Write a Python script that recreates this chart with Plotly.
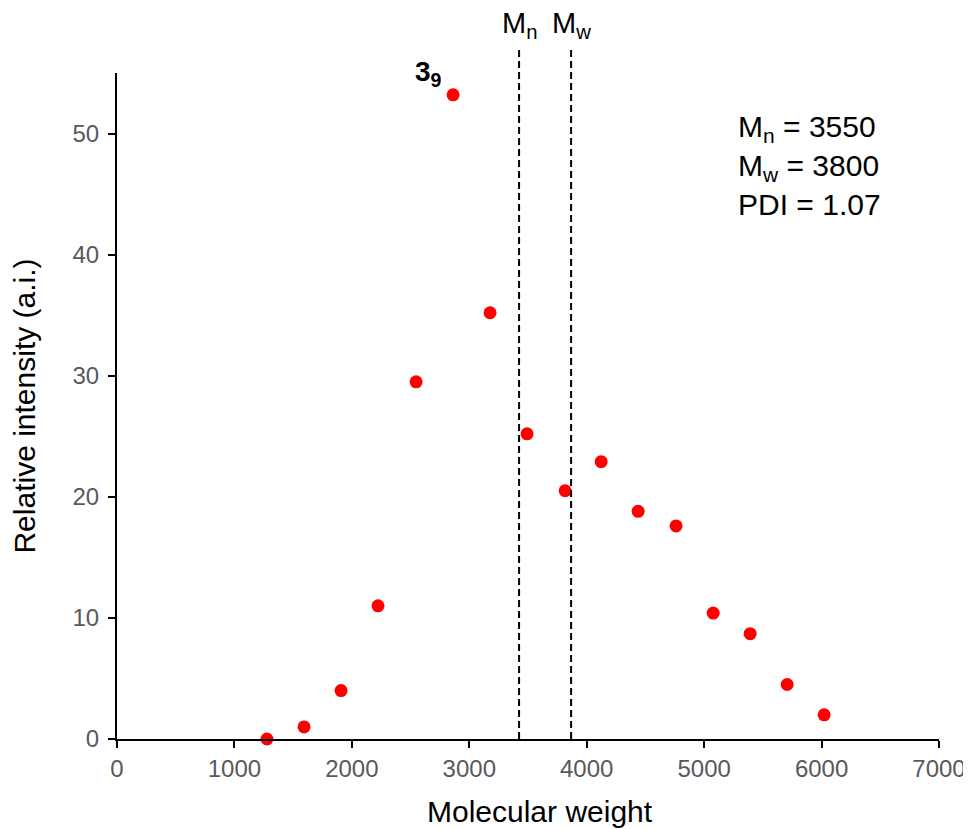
import plotly.graph_objects as go

mw = [1277, 1593, 1908, 2223, 2547, 2862, 3177, 3492, 3816, 4123, 4438, 4761, 5077, 5392, 5707, 6022]
intensity = [0, 1.0, 4.0, 11.0, 29.5, 53.2, 35.2, 25.2, 20.5, 22.9, 18.8, 17.6, 10.4, 8.7, 4.5, 2.0]
mn_line = 3424
mw_line = 3867
x_ticks = [0, 1000, 2000, 3000, 4000, 5000, 6000, 7000]
y_ticks = [0, 10, 20, 30, 40, 50]

FONT = "Liberation Sans, Arial, sans-serif"

fig = go.Figure()
fig.add_trace(go.Scatter(
    x=mw, y=intensity, mode="markers",
    marker=dict(color="#ff0000", size=13, line=dict(width=0)),
    cliponaxis=False, showlegend=False))

for xv in [mn_line, mw_line]:
    fig.add_shape(type="line", xref="x", yref="paper", x0=xv, x1=xv, y0=0, y1=1.036,
                  line=dict(color="black", width=2, dash="7px,4px"))

fig.add_annotation(x=mn_line, y=1.072, xref="x", yref="paper", text="M<sub>n</sub>",
                   showarrow=False, font=dict(size=29, color="black", family=FONT), yanchor="middle")
fig.add_annotation(x=mw_line, y=1.072, xref="x", yref="paper", text="M<sub>w</sub>",
                   showarrow=False, font=dict(size=29, color="black", family=FONT), yanchor="middle")
fig.add_annotation(x=2650, y=1.0, xref="x", yref="paper", text="<b>3<sub>9</sub></b>",
                   showarrow=False, font=dict(size=28, color="black", family=FONT), yanchor="middle")
fig.add_annotation(x=5270, y=0.947, xref="x", yref="paper", xanchor="left", yanchor="top", align="left",
                   text="M<sub>n</sub> = 3550<br>M<sub>w</sub> = 3800<br>PDI = 1.07",
                   showarrow=False, font=dict(size=30, color="black", family=FONT))
# x-axis title (placed slightly right of center, as in the reference)
fig.add_annotation(x=0.5146, y=-0.1096, xref="paper", yref="paper", xanchor="center", yanchor="middle",
                   text="Molecular weight", showarrow=False,
                   font=dict(size=30, color="black", family=FONT))

fig.update_layout(
    width=963, height=821,
    margin=dict(l=109, r=32, t=65, b=90),
    plot_bgcolor="white", paper_bgcolor="white",
    font=dict(family=FONT),
    xaxis=dict(range=[0, 7000], tickvals=x_ticks, ticks="outside", ticklen=7, tickwidth=2,
               tickcolor="black", showline=True, linecolor="black", linewidth=2,
               showgrid=False, zeroline=False, automargin=False,
               tickfont=dict(size=24, color="#595959")),
    yaxis=dict(range=[0, 55], tickvals=y_ticks, ticks="outside", ticklen=7, tickwidth=2,
               tickcolor="black", showline=True, linecolor="black", linewidth=2,
               showgrid=False, zeroline=False, automargin=False, ticklabelstandoff=4,
               tickfont=dict(size=24, color="#595959"),
               title=dict(text="Relative intensity (a.i.)", font=dict(size=30, color="black"), standoff=28)),
)

fig.write_html("out.html")
